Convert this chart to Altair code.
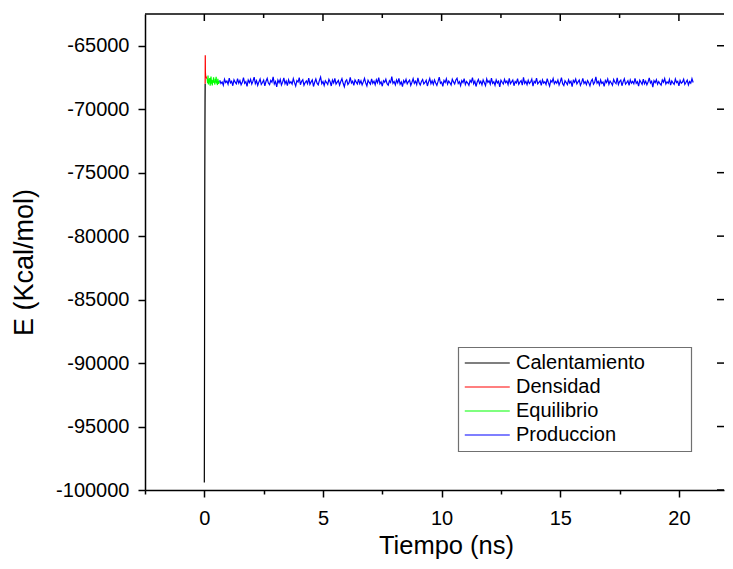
import altair as alt
import pandas as pd

# ---------------- data ----------------
series_names = ["Calentamiento", "Densidad", "Equilibrio", "Produccion"]
series_colors = ["#000000", "#ff0000", "#00ff00", "#0000ff"]

cal_t = [0.0, 0.005, 0.01, 0.015, 0.02, 0.025, 0.03, 0.035]
cal_e = [-99400, -94000, -88000, -80000, -75200, -72000, -69500, -68000]

den_t = [0.035, 0.04, 0.045, 0.055, 0.07, 0.085, 0.1, 0.12]
den_e = [-68000, -65750, -67100, -67350, -67450, -67500, -67550, -67600]

equ_t0, equ_dt = 0.12, 0.018
equ_e = [-67600, -67950, -67350, -68050, -67650, -67900, -67550, -68150, -67750, -67420,
         -67980, -67680, -68120, -67720, -67880, -67480, -67940, -67800, -68060, -67600,
         -67900, -67440, -67970, -67760, -68100, -67600, -68000, -67780, -67900, -67820]

prod_t0, prod_dt = 0.65, 0.05
prod_e = [
    -67720, -67980, -67850, -68110, -67640, -67900, -67780, -68040, -67560, -67930,
    -67810, -68150, -67690, -67870, -68000, -67600, -67950, -67740, -68080, -67880,
    -67520, -67960, -67830, -68200, -67700, -67910, -67650, -68020, -67790, -67480,
    -67990, -67760, -68120, -67850, -67620, -68050, -67900, -67710, -68160, -67800,
    -67580, -67940, -68060, -67730, -67880, -67450, -68010, -67820, -68250, -67700,
    -67920, -67660, -68090, -67870, -67540, -67990, -67780, -68140, -67690, -67960,
    -67830, -68030, -67600, -67910, -68180, -67740, -67860, -67510, -68070, -67800,
    -67680, -68120, -67900, -67770, -67990, -67560, -68040, -67850, -67700, -68210,
    -67880, -67620, -67950, -68080, -67730, -67470, -67990, -67820, -68130, -67760,
    -67900, -68050, -67650, -67840, -68170, -67710, -67930, -67580, -68020, -67870,
    -67740, -68100, -67820, -67590, -67960, -68230, -67800, -67680, -68060, -67910,
    -67500, -67940, -67800, -68120, -67700, -67870, -68010, -67630, -67980, -67760,
    -68090, -67850, -67570, -67930, -68160, -67720, -67890, -68030, -67610, -67960,
    -67790, -68070, -67680, -67910, -67520, -68000, -67840, -68190, -67750, -67880,
    -67640, -67990, -68110, -67760, -67900, -67440, -67960, -67820, -68080, -67700,
    -67930, -67580, -68040, -67860, -68220, -67740, -67910, -67650, -68000, -67830,
    -67710, -68130, -67880, -67600, -67970, -67790, -68060, -67530, -67920, -68100,
    -67820, -67660, -68010, -67890, -67720, -68170, -67850, -67580, -67990, -67760,
    -68050, -67690, -67940, -68120, -67810, -67470, -67960, -67870, -68200, -67730,
    -67900, -67610, -68030, -67780, -67920, -68090, -67640, -67850, -68010, -67700,
    -67560, -67980, -67830, -68150, -67750, -67900, -67600, -68060, -67820, -67940,
    -68120, -67730, -67880, -67510, -68000, -67790, -68210, -67860, -67650, -67970,
    -67800, -68080, -67700, -67920, -68140, -67620, -67890, -67760, -68030, -67550,
    -67960, -67840, -68110, -67680, -67930, -67800, -68240, -67720, -67880, -68020,
    -67640, -67910, -67780, -68060, -67570, -67990, -67850, -67700, -68150, -67820,
    -67930, -67600, -68040, -67870, -67750, -68100, -67490, -67960, -67810, -68070,
    -67720, -67980, -67860, -67630, -68190, -67800, -67920, -67550, -68010, -67890,
    -67770, -68130, -67690, -67940, -67840, -68050, -67600, -67910, -68180, -67740,
    -67870, -67580, -68000, -67820, -67960, -67710, -68090, -67850, -67520, -67990,
    -68140, -67760, -67900, -68060, -67680, -67940, -67800, -68220, -67730, -67880,
    -67620, -68010, -67850, -67700, -68120, -67910, -67570, -67980, -67830, -68070,
    -67750, -67920, -68160, -67800, -67640, -68030, -67880, -67460, -67950, -67810,
    -68090, -67700, -67970, -67860, -68200, -67740, -67900, -67620, -68040, -67780,
    -67930, -68110, -67660, -67880, -67990, -67540, -68060, -67820, -67710, -68150,
    -67840, -67600, -68020, -67900, -67760, -68130, -67690, -67950, -67810, -68000,
    -67570, -67960, -67830, -68180, -67720, -67880, -68050, -67640, -67990, -67790,
    -68080, -67860, -67530, -67940, -67800, -68260, -67750, -67910, -67680, -68030,
    -67820, -67990, -68100, -67700, -67870, -67590, -68020, -67840, -67960, -67660,
    -68110, -67780, -67930, -68050, -67620, -67900, -67810, -68170, -67730, -67950,
    -67860, -67640, -68040, -67880, -67710, -68090, -67820, -67950, -67600, -67900,
]

x_major = [0, 5, 10, 15, 20]
x_minor = [-2.5, 2.5, 7.5, 12.5, 17.5]
y_major = [-65000, -70000, -75000, -80000, -85000, -90000, -95000, -100000]
y_minor = [-67500, -72500, -77500, -82500, -87500, -92500, -97500]

x_domain = [-2.5, 21.9]
y_domain = [-100000, -62500]

# ---------------- build tables ----------------
rows = []
for t, e in zip(cal_t, cal_e):
    rows.append({"t": t, "E": e, "serie": series_names[0]})
for t, e in zip(den_t, den_e):
    rows.append({"t": t, "E": e, "serie": series_names[1]})
for i, e in enumerate(equ_e):
    rows.append({"t": equ_t0 + i * equ_dt, "E": e, "serie": series_names[2]})
for i, e in enumerate(prod_e):
    rows.append({"t": prod_t0 + i * prod_dt, "E": e, "serie": series_names[3]})
df = pd.DataFrame(rows)

W, H = 579, 476
FONT = "Liberation Sans"
MAJ, MIN = 7, 4
LEG_X, LEG_Y, LEG_W, LEG_H = 313.5, 333.5, 233, 104

x_scale = alt.Scale(domain=x_domain, nice=False, zero=False)
y_scale = alt.Scale(domain=y_domain, nice=False, zero=False)

lines = alt.Chart(df).mark_line(strokeWidth=1.2, clip=True).encode(
    x=alt.X("t:Q", scale=x_scale, title="Tiempo (ns)",
            axis=alt.Axis(values=x_minor + x_major,
                          labelExpr="datum.value % 5 === 0 ? '' + datum.value : ''",
                          tickSize={"condition": {"test": "datum.value % 5 === 0", "value": MAJ}, "value": MIN},
                          labelPadding=11, titleFontSize=25.5,
                          titleX=301, titleY=63.5, titleBaseline="alphabetic", titleAlign="center")),
    y=alt.Y("E:Q", scale=y_scale, title="E (Kcal/mol)",
            axis=alt.Axis(values=y_minor + y_major,
                          labelExpr="datum.value % 5000 === 0 ? '' + datum.value : ''",
                          tickSize={"condition": {"test": "datum.value % 5000 === 0", "value": MAJ}, "value": MIN},
                          labelPadding=9, titleFontSize=27,
                          titleX=-113, titleY=248, titleBaseline="alphabetic", titleAlign="center")),
    color=alt.Color("serie:N",
                    scale=alt.Scale(domain=series_names, range=series_colors),
                    legend=alt.Legend(title=None, orient="none", legendX=LEG_X - 0.5, legendY=LEG_Y - 0.5,
                                      symbolType="M-0.82,0L3.18,0", symbolSize=506, symbolStrokeWidth=1.2,
                                      labelFontSize=20, labelFont=FONT, labelOffset=30, labelLimit=400,
                                      padding=4, rowPadding=2)),
    order="t:Q",
)

tick_style = dict(color="black", strokeWidth=1.5)
top_frame = alt.Chart(pd.DataFrame({"v": [x_domain[0]]})).mark_rule(**tick_style).encode(
    y=alt.value(0), x=alt.value(0), x2=alt.value(W))
top_major = alt.Chart(pd.DataFrame({"v": x_major})).mark_rule(**tick_style).encode(
    x=alt.X("v:Q", scale=x_scale), y=alt.value(0), y2=alt.value(MAJ))
top_minor = alt.Chart(pd.DataFrame({"v": x_minor[1:]})).mark_rule(**tick_style).encode(
    x=alt.X("v:Q", scale=x_scale), y=alt.value(0), y2=alt.value(MIN))
right_major = alt.Chart(pd.DataFrame({"v": y_major})).mark_rule(**tick_style).encode(
    y=alt.Y("v:Q", scale=y_scale), x=alt.value(W - MAJ), x2=alt.value(W))
legend_box = alt.Chart(pd.DataFrame({"v": [0]})).mark_rect(
    fill="white", stroke="#707070", strokeWidth=1.2).encode(
    x=alt.value(LEG_X), x2=alt.value(LEG_X + LEG_W), y=alt.value(LEG_Y), y2=alt.value(LEG_Y + LEG_H))

chart = alt.layer(lines, top_frame, top_major, top_minor, right_major, legend_box).properties(
    width=W, height=H,
    autosize=alt.AutoSizeParams(type="none"),
    padding={"left": 137, "top": 6, "right": 1, "bottom": 70},
).configure_view(stroke=None).configure_axis(
    grid=False, domain=True, domainColor="black", domainWidth=1.5,
    tickColor="black", tickWidth=1.5,
    labelFont=FONT, labelFontSize=20, labelColor="black",
    titleFont=FONT, titleFontWeight="normal", titleColor="black",
    labelFlush=False, labelOverlap=False,
)

chart.save("out.html", embed_options={"renderer": "svg", "actions": False})
